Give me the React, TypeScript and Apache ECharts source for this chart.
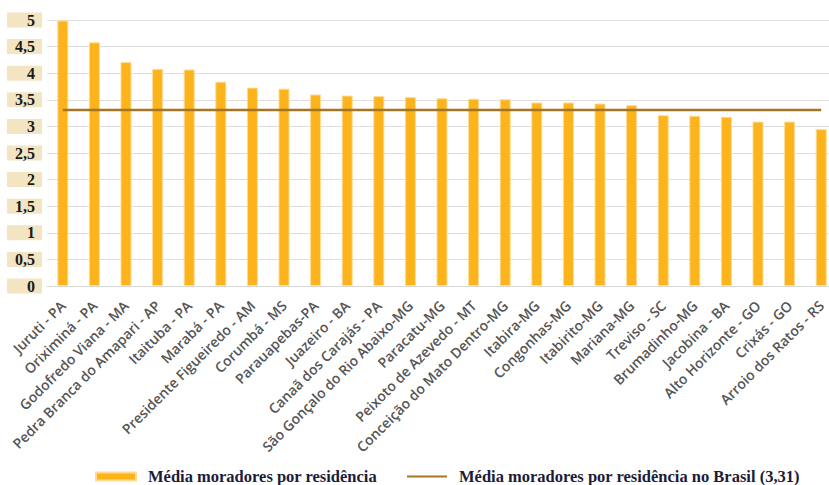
import React, { useEffect, useRef } from "react";
import * as echarts from "echarts";

const categories = [
  "Juruti - PA",
  "Oriximiná - PA",
  "Godofredo Viana - MA",
  "Pedra Branca do Amapari - AP",
  "Itaituba - PA",
  "Marabá - PA",
  "Presidente Figueiredo - AM",
  "Corumbá - MS",
  "Parauapebas-PA",
  "Juazeiro - BA",
  "Canaã dos Carajás - PA",
  "São Gonçalo do Rio Abaixo-MG",
  "Paracatu-MG",
  "Peixoto de Azevedo - MT",
  "Conceição do Mato Dentro-MG",
  "Itabira-MG",
  "Congonhas-MG",
  "Itabirito-MG",
  "Mariana-MG",
  "Treviso - SC",
  "Brumadinho-MG",
  "Jacobina - BA",
  "Alto Horizonte - GO",
  "Crixás - GO",
  "Arroio dos Ratos - RS",
];

const mediaMoradores = [
  4.99, 4.58, 4.21, 4.08, 4.07, 3.84, 3.73, 3.71, 3.6, 3.58, 3.57, 3.55, 3.53,
  3.52, 3.51, 3.45, 3.45, 3.43, 3.4, 3.21, 3.2, 3.18, 3.09, 3.09, 2.95,
];

const mediaBrasil = 3.31;
const mediaBrasilSeries = categories.map(() => mediaBrasil);

const barName = "Média moradores por residência";
const lineName = "Média moradores por residência no Brasil (3,31)";

export default function App() {
  const ref = useRef<HTMLDivElement>(null);

  useEffect(() => {
    if (!ref.current) return;
    document.body.style.margin = "0";
    const chart = echarts.init(ref.current, null, { renderer: "svg" });
    chart.setOption({
      animation: false,
      backgroundColor: "#ffffff",
      grid: {
        left: 47,
        width: 790,
        top: 20,
        height: 266,
        containLabel: false,
        outerBoundsMode: "none",
      },
      legend: {
        left: 90,
        top: 463,
        itemWidth: 40,
        itemHeight: 8,
        itemGap: 29,
        data: [
          { name: barName, icon: "rect" },
          { name: lineName, itemStyle: { opacity: 0 } },
        ],
        textStyle: {
          fontFamily: "Liberation Serif",
          fontSize: 16.5,
          fontWeight: "bold",
          color: "#1c1c3a",
          padding: [0, 0, 0, 7],
        },
      },
      xAxis: {
        type: "category",
        data: categories,
        axisLine: { lineStyle: { color: "#d9d9d9", width: 1 } },
        axisTick: { show: false },
        axisLabel: {
          interval: 0,
          rotate: 45,
          margin: 17,
          fontFamily: "Open Sans",
          fontSize: 14,
          fontWeight: 600,
          color: "#555555",
        },
      },
      yAxis: {
        type: "value",
        min: 0,
        max: 5,
        interval: 0.5,
        axisLine: { show: false },
        axisTick: { show: false },
        splitLine: { lineStyle: { color: "#dedede", width: 1 } },
        axisLabel: {
          margin: 5,
          formatter: (v: number) => String(v).replace(".", ","),
          fontFamily: "Liberation Serif",
          fontSize: 16,
          fontWeight: "bold",
          color: "#1a1a1a",
          backgroundColor: "#f4e5c2",
          width: 28,
          height: 15,
          lineHeight: 15,
          padding: [0, 7, 0, 0],
          align: "right",
        },
      },
      series: [
        {
          name: barName,
          type: "bar",
          data: mediaMoradores,
          barWidth: 11,
          itemStyle: {
            color: "#fdb31b",
            borderColor: "#fddc95",
            borderWidth: 1,
          },
        },
        {
          name: lineName,
          type: "line",
          data: mediaBrasilSeries,
          symbol: "none",
          showSymbol: false,
          lineStyle: { color: "#a47524", width: 2.5 },
          itemStyle: { color: "#a47524" },
          z: 3,
        },
      ],
    });
    return () => chart.dispose();
  }, []);

  return (
    <div
      ref={ref}
      style={{ position: "fixed", left: 0, top: 0, width: 829, height: 485 }}
    />
  );
}
